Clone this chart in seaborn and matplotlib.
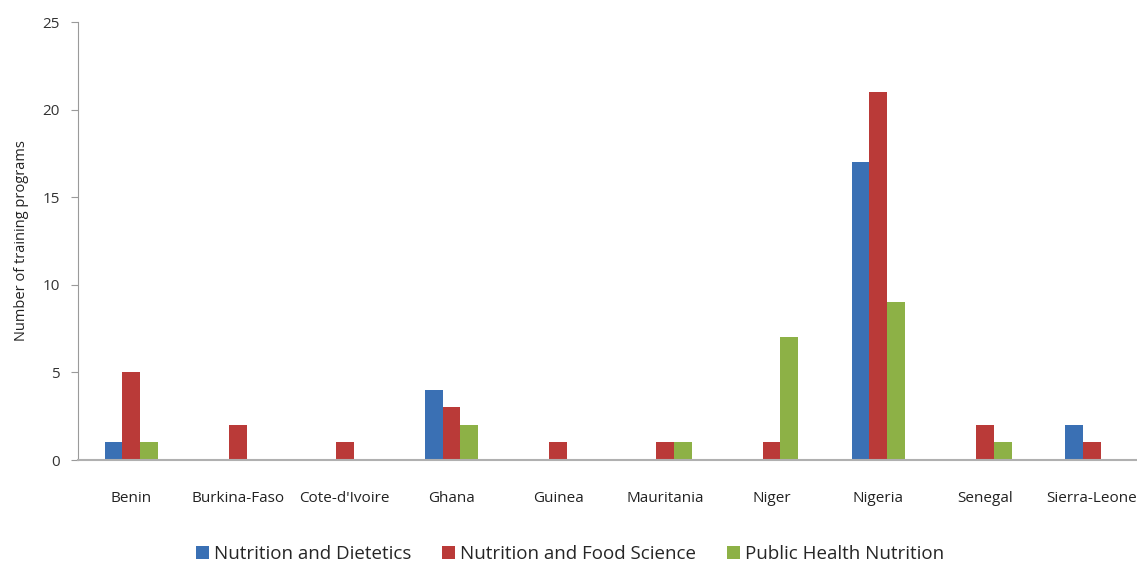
import pandas as pd
import seaborn as sns
import matplotlib.pyplot as plt

countries = ['Benin', 'Burkina-Faso', "Cote-d'Ivoire", 'Ghana', 'Guinea',
             'Mauritania', 'Niger', 'Nigeria', 'Senegal', 'Sierra-Leone']
dietetics = [1, 0, 0, 4, 0, 0, 0, 17, 0, 2]
food_science = [5, 2, 1, 3, 1, 1, 1, 21, 2, 1]
public_health = [1, 0, 0, 2, 0, 1, 7, 9, 1, 0]
programs = ['Nutrition and Dietetics', 'Nutrition and Food Science', 'Public Health Nutrition']
colors = ['#3a70b4', '#ba3a38', '#8db146']

df = pd.DataFrame({'country': countries,
                   programs[0]: dietetics,
                   programs[1]: food_science,
                   programs[2]: public_health})
long = df.melt(id_vars='country', var_name='program', value_name='count')

sns.set_style('white')
plt.rcParams['font.family'] = ['Open Sans', 'DejaVu Sans']

fig = plt.figure(figsize=(11.37, 5.62), dpi=100)
ax = fig.add_axes([78 / 1137, (562 - 460) / 562, 1067 / 1137, 438 / 562])

sns.barplot(data=long, x='country', y='count', hue='program', palette=colors,
            width=0.5, gap=0, saturation=1, ax=ax, linewidth=0)

ax.set_xlim(-0.5, 9.5)
ax.set_ylim(0, 25)
ax.set_yticks([0, 5, 10, 15, 20, 25])
ax.set_xlabel('')
ax.set_ylabel('Number of training programs', fontsize=10.5, color='#222222', labelpad=10)

for side in ['top', 'right']:
    ax.spines[side].set_visible(False)
ax.spines['left'].set_color('#9a9a9a')
ax.spines['bottom'].set_color('#b0b0b0')
ax.spines['bottom'].set_linewidth(1.5)
ax.tick_params(axis='y', length=5, color='#9a9a9a', labelsize=11, labelcolor='#333333', left=True, pad=8)
ax.tick_params(axis='x', length=0, labelsize=11, labelcolor='#222222', pad=22)

ax.legend(loc='center', bbox_to_anchor=(492 / 1067, -0.215), ncol=3, frameon=False,
          fontsize=13.5, handlelength=0.7, handleheight=0.7, handletextpad=0.3,
          columnspacing=1.6, borderaxespad=0)

fig.savefig('out.png', dpi=100)
